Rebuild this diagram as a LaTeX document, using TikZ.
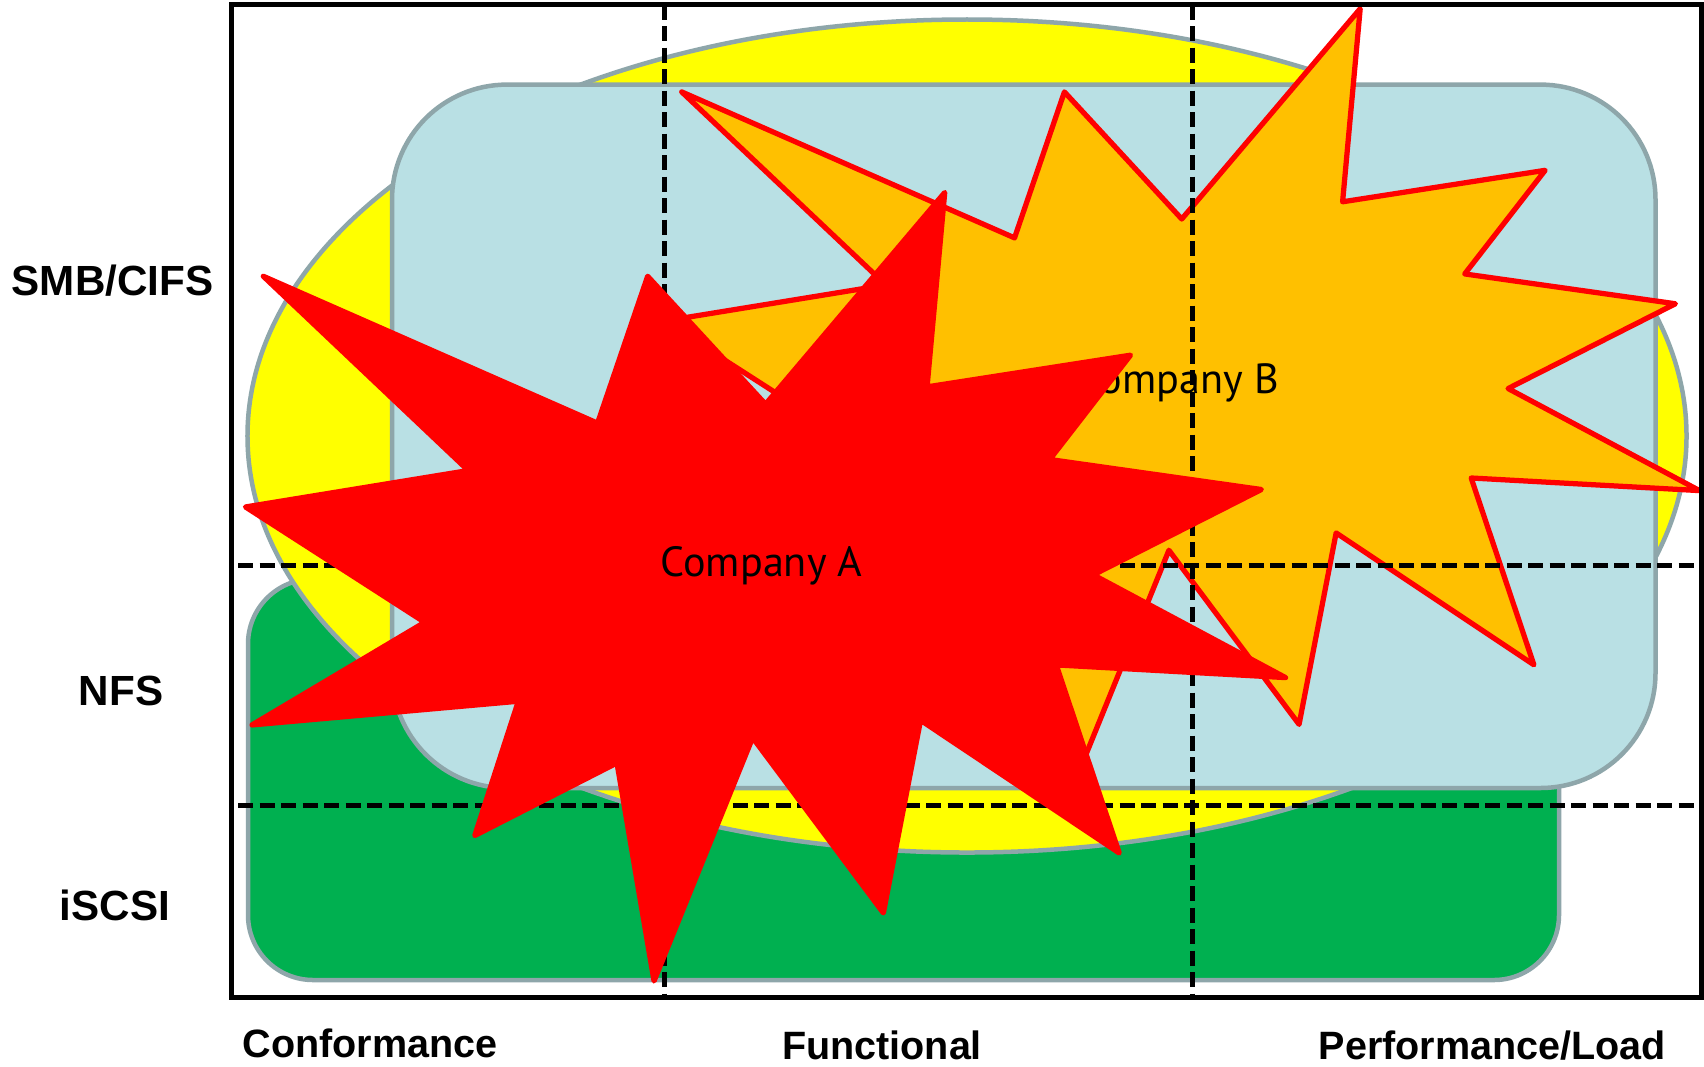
\documentclass[tikz,border=0pt]{standalone}
\usepackage{fontspec}
\setmainfont{Liberation Sans}
\newfontfamily\gillfont{PT Sans}
\definecolor{gline}{RGB}{142,166,170}
\definecolor{lblue}{RGB}{185,224,228}
\definecolor{ggreen}{RGB}{0,176,80}
\definecolor{orng}{RGB}{255,192,0}
\definecolor{yell}{RGB}{255,255,0}
\definecolor{rred}{RGB}{255,0,0}
\newcommand{\explosionshape}[1]{\path[#1] (108,58) -- (145.22,0) -- (141.55,53.25) -- (183.80,44.57) -- (167.02,73.15) -- (210.97,81.37) -- (176.07,104.75) -- (216,132.90) -- (168.37,129.42) -- (181.45,180.95) -- (140.20,144.57) -- (132.47,197.37) -- (105.32,149.35) -- (84.85,216) -- (77.15,156.27) -- (47.62,176.17) -- (56.67,139.37) -- (1.35,145.87) -- (37.22,117.75) -- (0,86.15) -- (46.27,76.17) -- (3.70,22.95) -- (73.12,63.20) -- (83.52,22.95) -- cycle;}
\tikzset{
  softbox/.style={draw=gline, line width=0.9mm},
  gridline/.style={line width=1mm, dash pattern=on 3mm off 1.3mm},
  boom/.style={draw=rred, line width=1.05mm, line join=round},
  axislabel/.style={font=\bfseries\fontsize{22.5}{26}\selectfont, anchor=base},
  rowlabel/.style={font=\bfseries\fontsize{24}{28}\selectfont, anchor=base},
  company/.style={font=\gillfont\fontsize{24}{28}\selectfont, anchor=base, inner sep=0pt}
}
\begin{document}
\begin{tikzpicture}[x=0.2mm,y=-0.2mm]
\useasboundingbox (0,0) rectangle (1704,1066);
\fill[white] (0,0) rectangle (1704,1066);
% green box (iSCSI)
\filldraw[softbox, fill=ggreen, rounded corners=13mm] (248,579) rectangle (1559,980);
% yellow ellipse
\filldraw[softbox, fill=yell] (967,436) ellipse [x radius=143.9mm, y radius=83.3mm];
% light blue box
\filldraw[softbox, fill=lblue, rounded corners=23mm] (392,84.6) rectangle (1655.5,788);
% Company B explosion
\begin{scope}[shift={(664,8.7)}, xscale=4.794, yscale=3.626]
\explosionshape{boom, fill=orng}
\end{scope}
\node[company] (compB) at (1178,393.4) {Company B};
% grid lines
\coordinate (v1t) at (664,4.5);
\coordinate (v1b) at (664,997);
\coordinate (v2t) at (1192,4.5);
\coordinate (v2b) at (1192,997);
\coordinate (h1l) at (238,565);
\coordinate (h1r) at (1704,565);
\coordinate (h2l) at (238,805);
\coordinate (h2r) at (1704,805);
\draw[gridline] (v1t) -- (v1b);
\draw[gridline] (v2t) -- (v2b);
\draw[gridline] (h1l) -- (h1r);
\draw[gridline] (h2l) -- (h2r);
% Company A explosion
\begin{scope}[shift={(245.5,192.5)}, xscale=4.815, yscale=3.650]
\explosionshape{boom, fill=rred}
\end{scope}
\node[company] (compA) at (761.7,576.7) {Company A};
% frame
\draw[line width=1mm] (231,4.5) -- (1701.5,4.5) -- (1701.5,997.5) -- (231,997.5) -- cycle;
% labels
\node[rowlabel] (smb) at (112.5,295) {SMB/CIFS};
\node[rowlabel] (nfs) at (121,705) {NFS};
\node[rowlabel] (iscsi) at (115,920) {iSCSI};
\node[axislabel] (conf) at (370,1057) {Conformance};
\node[axislabel] (func) at (882,1059) {Functional};
\node[axislabel] (perf) at (1492.5,1059) {Performance/Load};
\end{tikzpicture}
\end{document}
